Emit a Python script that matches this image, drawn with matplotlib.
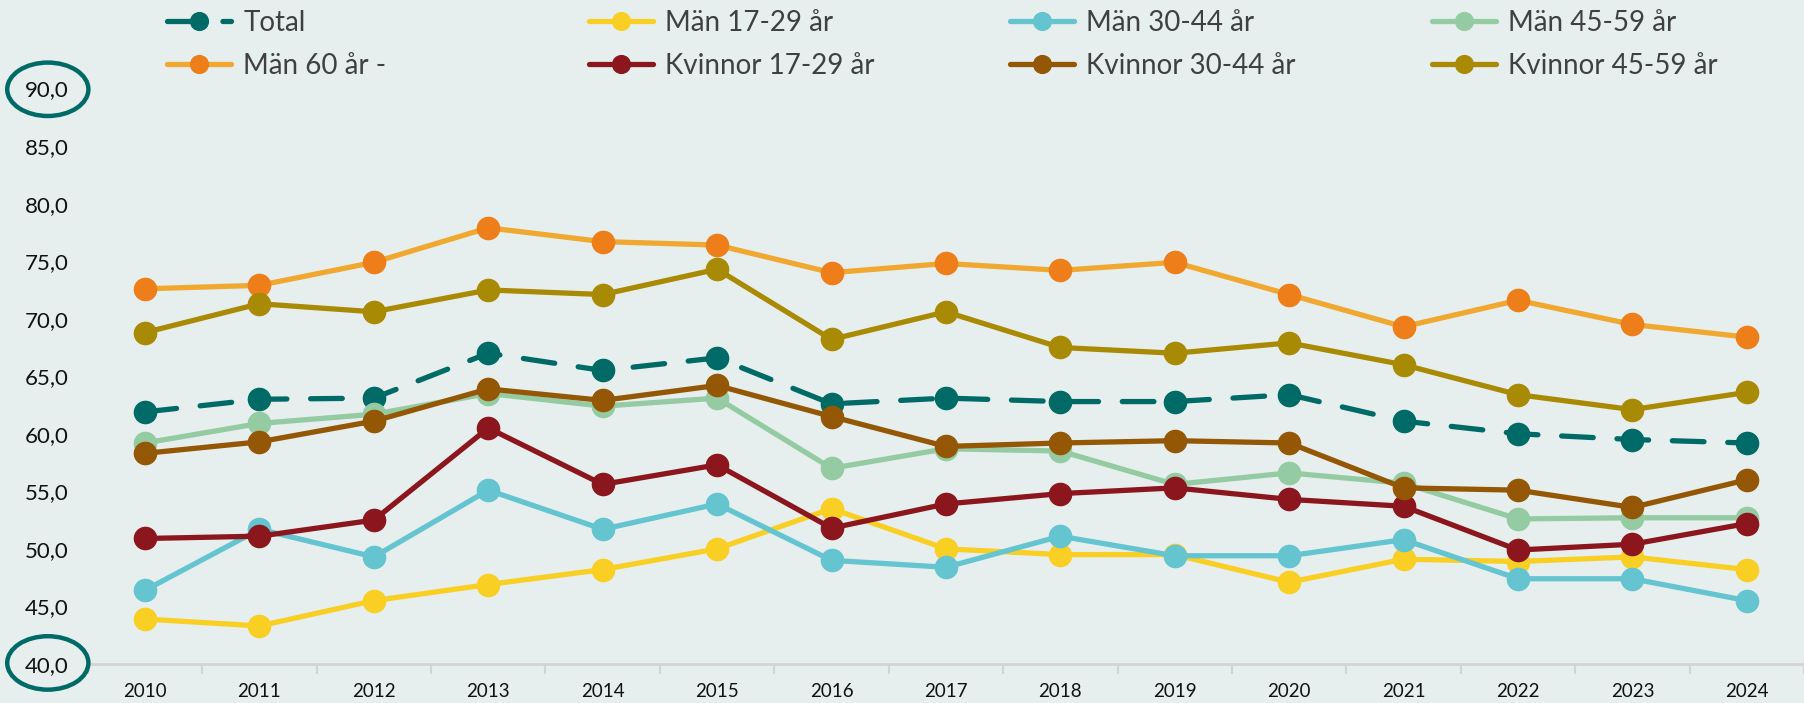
import matplotlib
matplotlib.use("Agg")
import matplotlib.pyplot as plt
from matplotlib.patches import Ellipse
import numpy as np

years = list(range(2010, 2025))

total = [61.9, 63.0, 63.1, 67.0, 65.5, 66.6, 62.6, 63.1, 62.8, 62.8, 63.4, 61.1, 60.0, 59.5, 59.2]
man_17_29 = [43.9, 43.3, 45.5, 46.9, 48.2, 50.0, 53.5, 50.0, 49.5, 49.5, 47.1, 49.1, 48.9, 49.3, 48.2]
man_30_44 = [46.4, 51.7, 49.3, 55.1, 51.7, 53.9, 49.0, 48.4, 51.1, 49.4, 49.4, 50.8, 47.4, 47.4, 45.5]
man_45_59 = [59.2, 60.9, 61.7, 63.5, 62.4, 63.1, 57.0, 58.7, 58.5, 55.6, 56.6, 55.7, 52.6, 52.7, 52.7]
man_60 = [72.6, 72.9, 74.9, 77.9, 76.7, 76.4, 74.0, 74.8, 74.2, 74.9, 72.1, 69.3, 71.6, 69.5, 68.4]
kv_17_29 = [50.9, 51.1, 52.5, 60.5, 55.6, 57.3, 51.8, 53.9, 54.8, 55.3, 54.3, 53.7, 49.9, 50.4, 52.2]
kv_30_44 = [58.3, 59.3, 61.1, 63.9, 62.9, 64.2, 61.5, 58.9, 59.2, 59.4, 59.2, 55.3, 55.1, 53.6, 56.0]
kv_45_59 = [68.8, 71.3, 70.6, 72.5, 72.1, 74.3, 68.2, 70.6, 67.5, 67.0, 67.9, 66.0, 63.4, 62.1, 63.6]

# name, values, line colour, marker colour, dashed
series = [
    ("Total", total, "#006B66", "#006B66", True),
    ("Män 17-29 år", man_17_29, "#F9CF24", "#F9CF24", False),
    ("Män 30-44 år", man_30_44, "#64C4D0", "#64C4D0", False),
    ("Män 45-59 år", man_45_59, "#94CBA2", "#94CBA2", False),
    ("Män 60 år -", man_60, "#F0A830", "#EE7E1A", False),
    ("Kvinnor 17-29 år", kv_17_29, "#8B161E", "#8B161E", False),
    ("Kvinnor 30-44 år", kv_30_44, "#945705", "#945705", False),
    ("Kvinnor 45-59 år", kv_45_59, "#A98A04", "#A98A04", False),
]

BG = "#E6EFEE"
plt.rcParams["font.family"] = ["Lato", "DejaVu Sans"]

fig = plt.figure(figsize=(18.04, 7.03), dpi=100, facecolor=BG)
ax = fig.add_axes([0.0487, 0.0556, 0.9513, 0.8184], facecolor=BG)

x = np.arange(len(years))
handles = []
for name, vals, lc, mc, dashed in series:
    h, = ax.plot(x, vals, color=lc, lw=3.8,
                 linestyle=(0, (6, 4.5)) if dashed else "-",
                 dash_capstyle="round", solid_capstyle="round",
                 marker="o", markersize=16, markerfacecolor=mc,
                 markeredgecolor=mc, label=name)
    handles.append(h)

ax.set_xlim(-0.5, len(years) - 0.5)
ax.set_ylim(40, 90)
ax.set_yticks(np.arange(40, 91, 5))
ax.set_yticklabels([f"{v:.1f}".replace(".", ",") for v in np.arange(40, 91, 5)],
                   fontsize=16, color="#111111")
ax.set_xticks(x)
ax.set_xticklabels([str(y) for y in years], fontsize=13.5, color="#111111")
ax.set_xticks(np.arange(-0.5, len(years), 1), minor=True)
ax.tick_params(axis="x", which="major", length=0, pad=14)
ax.tick_params(axis="x", which="minor", length=7, width=1.5, color="#D3D3D3")
ax.tick_params(axis="y", length=0, pad=14)
for side in ["top", "right", "left"]:
    ax.spines[side].set_visible(False)
ax.spines["bottom"].set_color("#D3D3D3")
ax.spines["bottom"].set_linewidth(2)

# legend: 4 columns x 2 rows, Excel order (row-wise)
col_x = [0.0926, 0.3265, 0.5599, 0.7938]
for i, cx in enumerate(col_x):
    leg = fig.legend([handles[i], handles[i + 4]],
                     [series[i][0], series[i + 4][0]],
                     loc="upper left", bbox_to_anchor=(cx, 0.986),
                     frameon=False, fontsize=20, labelcolor="#404040",
                     handlelength=2.3, handletextpad=0.45, labelspacing=0.62,
                     borderpad=0, borderaxespad=0, markerscale=0.8)

# highlight circles around the axis end labels
for cy in [0.873, 0.057]:
    fig.patches.append(Ellipse((0.0265, cy), 0.045, 0.076, transform=fig.transFigure,
                               fill=False, edgecolor="#006B66", lw=3.2))

fig.savefig("out.png", dpi=100, facecolor=BG)
